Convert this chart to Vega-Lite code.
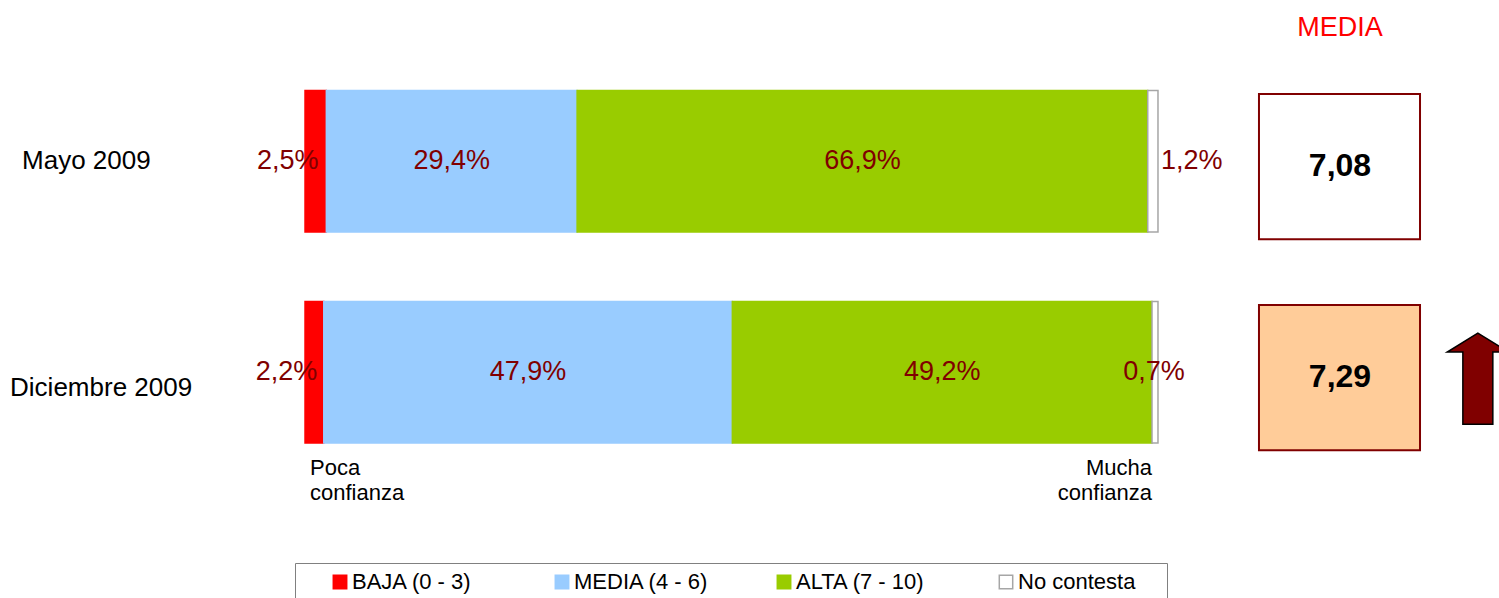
{
  "$schema": "https://vega.github.io/schema/vega-lite/v6.json",
  "width": 1499,
  "height": 598,
  "padding": 0,
  "autosize": {"type": "none"},
  "background": "white",
  "config": {"view": {"stroke": null}, "font": "Liberation Sans", "text": {"font": "Liberation Sans"}},
  "datasets": {
    "bars": [
      {"row": "Mayo 2009", "cat": "BAJA (0 - 3)", "k": 1, "pct": 2.5},
      {"row": "Mayo 2009", "cat": "MEDIA (4 - 6)", "k": 2, "pct": 29.4},
      {"row": "Mayo 2009", "cat": "ALTA (7 - 10)", "k": 3, "pct": 66.9},
      {"row": "Mayo 2009", "cat": "No contesta", "k": 4, "pct": 1.2},
      {"row": "Diciembre 2009", "cat": "BAJA (0 - 3)", "k": 1, "pct": 2.2},
      {"row": "Diciembre 2009", "cat": "MEDIA (4 - 6)", "k": 2, "pct": 47.9},
      {"row": "Diciembre 2009", "cat": "ALTA (7 - 10)", "k": 3, "pct": 49.2},
      {"row": "Diciembre 2009", "cat": "No contesta", "k": 4, "pct": 0.7}
    ],
    "media": [
      {"row": "Mayo 2009", "media": 7.08, "up": false},
      {"row": "Diciembre 2009", "media": 7.29, "up": true}
    ]
  },
  "layer": [
    {
      "data": {"name": "bars"},
      "mark": {"type": "bar", "strokeWidth": 1.5},
      "encoding": {
        "y": {"field": "row", "type": "nominal", "sort": ["Mayo 2009", "Diciembre 2009"],
              "scale": {"domain": ["Mayo 2009", "Diciembre 2009"], "paddingInner": 0.3294, "paddingOuter": 0.5817, "align": 0.3686},
              "axis": null},
        "x": {"field": "pct", "type": "quantitative", "stack": "zero",
              "scale": {"domain": [-35.76, 139.98], "nice": false, "zero": false}, "axis": null},
        "color": {"field": "cat", "type": "nominal", "title": "\u00a0",
                  "scale": {"domain": ["BAJA (0 - 3)", "MEDIA (4 - 6)", "ALTA (7 - 10)", "No contesta"], "range": ["#FF0000", "#99CCFF", "#99CC00", "#FFFFFF"]},
                  "legend": {"orient": "none", "legendX": 295, "legendY": 563, "direction": "horizontal", "columns": 4, "gridAlign": "all",
                             "columnPadding": 38, "symbolOffset": 26, "titleOrient": "right", "titlePadding": 24, "titleFontSize": 10, "strokeColor": "#808080", "fillColor": "white", "padding": 8,
                             "labelFont": "Liberation Sans", "labelFontSize": 22, "labelColor": "#000000", "labelOffset": 1, "labelLimit": 300,
                             "symbolType": "square", "symbolSize": 180, "symbolStrokeWidth": 1.5}},
        "stroke": {"field": "cat", "type": "nominal", "title": "\u00a0",
                   "scale": {"domain": ["BAJA (0 - 3)", "MEDIA (4 - 6)", "ALTA (7 - 10)", "No contesta"], "range": ["#FF0000", "#99CCFF", "#99CC00", "#A6A6A6"]},
                   "legend": {"orient": "none", "legendX": 295, "legendY": 563, "direction": "horizontal", "columns": 4, "gridAlign": "all",
                             "columnPadding": 38, "symbolOffset": 26, "titleOrient": "right", "titlePadding": 24, "titleFontSize": 10, "strokeColor": "#808080", "fillColor": "white", "padding": 8,
                             "labelFont": "Liberation Sans", "labelFontSize": 22, "labelColor": "#000000", "labelOffset": 1, "labelLimit": 300,
                             "symbolType": "square", "symbolSize": 180, "symbolStrokeWidth": 1.5}},
        "order": {"field": "k", "type": "quantitative"}
      }
    },
    {
      "data": {"name": "bars"},
      "transform": [
        {"stack": "pct", "groupby": ["row"], "sort": [{"field": "k", "order": "ascending"}], "as": ["s0", "s1"]},
        {"calculate": "(datum.s0 + datum.s1) / 2", "as": "mid"},
        {"calculate": "replace(format(datum.pct, '.1f'), '.', ',') + '%'", "as": "lbl"}
      ],
      "layer": [
        {
          "transform": [{"filter": "datum.k == 2 || datum.k == 3"}],
          "mark": {"type": "text", "fontSize": 27, "color": "#800000", "baseline": "middle", "align": "center"},
          "encoding": {"x": {"field": "mid", "type": "quantitative"}, "y": {"field": "row", "type": "nominal"}, "text": {"field": "lbl"}}
        },
        {
          "transform": [{"filter": "datum.k == 1"}],
          "mark": {"type": "text", "fontSize": 27, "color": "#800000", "baseline": "middle", "align": "center", "dx": -28},
          "encoding": {"x": {"field": "mid", "type": "quantitative"}, "y": {"field": "row", "type": "nominal"}, "text": {"field": "lbl"}}
        },
        {
          "transform": [{"filter": "datum.k == 4 && datum.row == 'Mayo 2009'"}],
          "mark": {"type": "text", "fontSize": 27, "color": "#800000", "baseline": "middle", "align": "left", "dx": 3},
          "encoding": {"x": {"field": "s1", "type": "quantitative"}, "y": {"field": "row", "type": "nominal"}, "text": {"field": "lbl"}}
        },
        {
          "transform": [{"filter": "datum.k == 4 && datum.row == 'Diciembre 2009'"}],
          "mark": {"type": "text", "fontSize": 27, "color": "#800000", "baseline": "middle", "align": "center", "dx": -1},
          "encoding": {"x": {"field": "mid", "type": "quantitative"}, "y": {"field": "row", "type": "nominal"}, "text": {"field": "lbl"}}
        }
      ]
    },
    {
      "data": {"name": "media"},
      "layer": [
        {
          "transform": [{"filter": "datum.row == 'Mayo 2009'"}],
          "mark": {"type": "text", "fontSize": 26, "color": "#000000", "baseline": "middle", "align": "left", "dx": 12},
          "encoding": {"x": {"datum": -34.58}, "y": {"field": "row", "type": "nominal"}, "text": {"field": "row"}}
        },
        {
          "transform": [{"filter": "datum.row == 'Diciembre 2009'"}],
          "mark": {"type": "text", "fontSize": 26, "color": "#000000", "baseline": "middle", "align": "left", "dy": 16},
          "encoding": {"x": {"datum": -34.58}, "y": {"field": "row", "type": "nominal"}, "text": {"field": "row"}}
        },
        {
          "mark": {"type": "rect", "strokeWidth": 2, "stroke": "#800000"},
          "encoding": {
            "x": {"datum": 111.84}, "x2": {"datum": 130.72},
            "y": {"field": "row", "type": "nominal", "bandPosition": 0.025},
            "y2": {"field": "row", "bandPosition": 1.052},
            "fill": {"field": "row", "type": "nominal", "scale": {"domain": ["Mayo 2009", "Diciembre 2009"], "range": ["#FFFFFF", "#FFCC99"]}, "legend": null}
          }
        },
        {
          "transform": [{"calculate": "replace(format(datum.media, '.2f'), '.', ',')", "as": "mlbl"}],
          "mark": {"type": "text", "fontSize": 32, "fontWeight": "bold", "color": "#000000", "baseline": "middle", "align": "center", "dy": 5},
          "encoding": {"x": {"datum": 121.34}, "y": {"field": "row", "type": "nominal"}, "text": {"field": "mlbl"}}
        },
        {
          "transform": [{"filter": "datum.up"}],
          "mark": {"type": "point", "filled": true, "fill": "#800000", "stroke": "#000000", "strokeWidth": 1.5, "opacity": 1,
                   "shape": "M0,-0.87 L0.68,-0.45 L0.333,-0.45 L0.333,1.156 L-0.333,1.156 L-0.333,-0.45 L-0.68,-0.45 Z", "size": 8100},
          "encoding": {"x": {"datum": 137.5}, "y": {"field": "row", "type": "nominal"}}
        }
      ]
    },
    {
      "data": {"values": [{"t": "MEDIA"}]},
      "mark": {"type": "text", "fontSize": 27, "color": "#FF0000", "baseline": "middle", "align": "center", "dy": -133},
      "encoding": {"x": {"datum": 121.34}, "y": {"datum": "Mayo 2009"}, "text": {"field": "t"}}
    },
    {
      "data": {"values": [{"t": "Poca\nconfianza"}]},
      "mark": {"type": "text", "fontSize": 22, "lineHeight": 25, "lineBreak": "\n", "color": "#000000", "baseline": "alphabetic", "align": "left", "dx": 5, "dy": 103},
      "encoding": {"x": {"datum": 0}, "y": {"datum": "Diciembre 2009"}, "text": {"field": "t"}}
    },
    {
      "data": {"values": [{"t": "Mucha\nconfianza"}]},
      "mark": {"type": "text", "fontSize": 22, "lineHeight": 25, "lineBreak": "\n", "color": "#000000", "baseline": "alphabetic", "align": "right", "dx": -6, "dy": 103},
      "encoding": {"x": {"datum": 100}, "y": {"datum": "Diciembre 2009"}, "text": {"field": "t"}}
    }
  ]
}
